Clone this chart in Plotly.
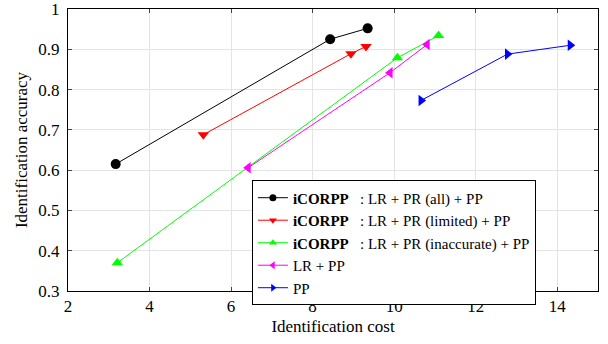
import plotly.graph_objects as go

names = ["<b>iCORPP</b>&nbsp;&nbsp; : LR + PR (all) + PP",
         "<b>iCORPP</b>&nbsp;&nbsp; : LR + PR (limited) + PP",
         "<b>iCORPP</b>&nbsp;&nbsp; : LR + PR (inaccurate) + PP",
         "LR + PP",
         "PP"]
cost_all = [3.17, 8.43, 9.35]
acc_all = [0.615, 0.925, 0.952]
cost_limited = [5.32, 8.94, 9.31]
acc_limited = [0.688, 0.889, 0.907]
cost_inacc = [3.21, 10.08, 11.09]
acc_inacc = [0.370, 0.879, 0.934]
cost_lrpp = [6.42, 9.90, 10.81]
acc_lrpp = [0.606, 0.842, 0.912]
cost_pp = [10.66, 12.78, 14.32]
acc_pp = [0.773, 0.888, 0.910]

xticks = [2, 4, 6, 8, 10, 12, 14]
yticks = [0.3, 0.4, 0.5, 0.6, 0.7, 0.8, 0.9, 1.0]
yticklabels = ["0.3", "0.4", "0.5", "0.6", "0.7", "0.8", "0.9", "1"]

series = [
    (cost_all, acc_all, "#000000", "circle"),
    (cost_limited, acc_limited, "#ff0000", "triangle-down"),
    (cost_inacc, acc_inacc, "#00ff00", "triangle-up"),
    (cost_lrpp, acc_lrpp, "#ff00ff", "triangle-left"),
    (cost_pp, acc_pp, "#0000ff", "triangle-right"),
]

fig = go.Figure()
for (x, y, c, sym), nm in zip(series, names):
    fig.add_trace(go.Scatter(x=x, y=y, name=nm, mode="lines+markers",
                             line=dict(color=c, width=1), showlegend=False,
                             marker=dict(color=c, symbol=sym, size=10)))
for (x, y, c, sym), nm in zip(series, names):
    fig.add_trace(go.Scatter(x=[None], y=[None], name=nm, mode="lines+markers",
                             line=dict(color=c, width=1),
                             marker=dict(color=c, symbol=sym, size=7)))

font = "Times New Roman, Liberation Serif, serif"
fig.update_layout(
    width=608, height=344,
    margin=dict(l=68, r=10, t=9, b=53, autoexpand=False),
    paper_bgcolor="white", plot_bgcolor="white",
    font=dict(family=font, size=16, color="black"),
    showlegend=True,
    legend=dict(x=0.347, y=0.392, xanchor="left", yanchor="top",
                bordercolor="black", borderwidth=1, bgcolor="white",
                font=dict(family=font, size=15, color="black"), tracegroupgap=0,
                itemwidth=30),
    xaxis=dict(range=[2, 15], tickvals=xticks, ticks="inside", ticklen=4,
               showline=True, linecolor="black", linewidth=1, mirror="ticks",
               showgrid=True, gridcolor="#e4e4e4", zeroline=False,
               automargin=False, ticklabeloverflow="allow",
               title=dict(text="Identification cost", standoff=4,
                          font=dict(family=font, size=17)),
               tickfont=dict(family=font, size=17)),
    yaxis=dict(range=[0.3, 1.0], tickvals=yticks, ticktext=yticklabels,
               ticks="inside", ticklen=4, ticklabelstandoff=4,
               showline=True, linecolor="black", linewidth=1, mirror="ticks",
               showgrid=True, gridcolor="#e4e4e4", zeroline=False,
               automargin=False, ticklabeloverflow="allow",
               title=dict(text="Identification accuracy", standoff=6,
                          font=dict(family=font, size=17)),
               tickfont=dict(family=font, size=17)),
)
fig.write_html("out.html", config={"displayModeBar": False},
               post_script="document.body.style.margin='0px';")
